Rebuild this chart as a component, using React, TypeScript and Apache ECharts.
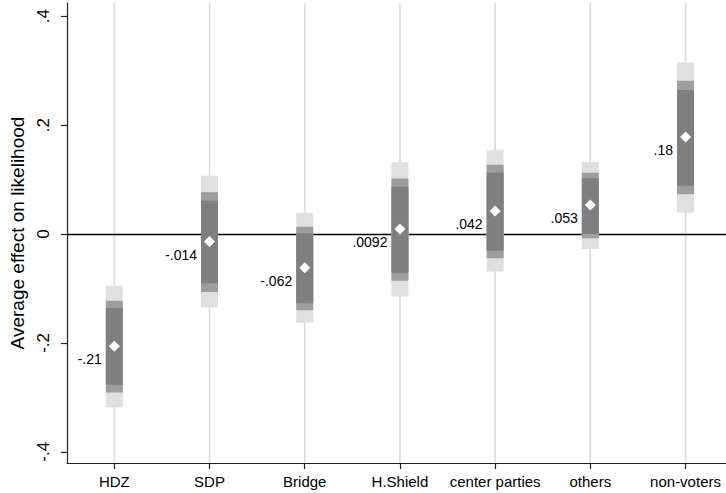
import React, { useEffect, useRef } from "react";
import * as echarts from "echarts";

const categories = ["HDZ", "SDP", "Bridge", "H.Shield", "center parties", "others", "non-voters"];
const estimates = [-0.206, -0.014, -0.062, 0.0092, 0.042, 0.053, 0.178];
const estimateLabels = ["-.21", "-.014", "-.062", ".0092", ".042", ".053", ".18"];
const ci99Low = [-0.318, -0.135, -0.163, -0.115, -0.069, -0.0275, 0.039];
const ci99High = [-0.095, 0.107, 0.039, 0.132, 0.154, 0.132, 0.315];
const ci95Low = [-0.291, -0.1065, -0.14, -0.086, -0.0446, -0.008, 0.073];
const ci95High = [-0.1225, 0.0766, 0.0134, 0.102, 0.127, 0.1126, 0.2815];
const ci90Low = [-0.277, -0.0905, -0.127, -0.0711, -0.0307, 0.0, 0.0887];
const ci90High = [-0.136, 0.0612, 0.0013, 0.0869, 0.113, 0.1023, 0.2645];
const yTicks = [-0.4, -0.2, 0, 0.2, 0.4];

const Y_MIN = -0.4206;
const Y_MAX = 0.4242;
const X_MIN = -0.497;
const X_MAX = 6.425;
const FONT = "'Liberation Sans', Arial, Helvetica, sans-serif";

export default function App() {
  const ref = useRef<HTMLDivElement>(null);
  useEffect(() => {
    if (!ref.current) return;
    const chart = echarts.init(ref.current, null, { renderer: "svg" });
    const idx = categories.map((_, i) => i);
    const fmtY = (v: number) => (v === 0 ? "0" : String(v).replace("0.", "."));
    chart.setOption({
      animation: false,
      backgroundColor: "#ffffff",
      grid: { left: 67, right: 0, top: 3, bottom: 30, containLabel: false },
      xAxis: {
        type: "value",
        min: X_MIN,
        max: X_MAX,
        axisLine: { show: true, onZero: false, lineStyle: { color: "#222", width: 1.2 } },
        axisTick: { show: true, length: 6, customValues: idx, lineStyle: { color: "#222", width: 1.2 } },
        axisLabel: {
          customValues: idx,
          formatter: (v: number) => categories[Math.round(v)] ?? "",
          margin: 11,
          fontSize: 15,
          color: "#000",
          fontFamily: FONT,
        },
        splitLine: { show: false },
      },
      yAxis: {
        type: "value",
        min: Y_MIN,
        max: Y_MAX,
        name: "Average effect on likelihood",
        nameLocation: "middle",
        nameRotate: 90,
        nameGap: 40,
        nameTextStyle: { fontSize: 19, color: "#000", fontFamily: FONT },
        axisLine: { show: true, onZero: false, lineStyle: { color: "#222", width: 1.2 } },
        axisTick: { show: true, length: 6, customValues: yTicks, lineStyle: { color: "#222", width: 1.2 } },
        axisLabel: {
          customValues: yTicks,
          formatter: fmtY,
          rotate: 90,
          margin: 15,
          fontSize: 17,
          color: "#000",
          fontFamily: FONT,
        },
        splitLine: { show: false },
      },
      series: [
        {
          type: "custom",
          z: 1,
          silent: true,
          data: idx.map((i) => [i]),
          renderItem: (params: any, api: any) => {
            const i = api.value(0);
            const top = api.coord([i, Y_MAX]);
            const bot = api.coord([i, Y_MIN]);
            return {
              type: "line",
              shape: { x1: top[0], y1: top[1], x2: bot[0], y2: bot[1] },
              style: { stroke: "#dcdcdc", lineWidth: 1.6 },
            };
          },
          markLine: {
            silent: true,
            z: 2,
            symbol: "none",
            label: { show: false },
            lineStyle: { color: "#000", width: 1.3, type: "solid" },
            data: [{ yAxis: 0 }],
          },
        },
        {
          type: "custom",
          z: 3,
          silent: true,
          data: idx.map((i) => [i, ci99Low[i], ci99High[i], ci95Low[i], ci95High[i], ci90Low[i], ci90High[i]]),
          renderItem: (params: any, api: any) => {
            const i = api.value(0);
            const half = 8.5;
            const rect = (lo: number, hi: number, color: string) => {
              const p1 = api.coord([i, hi]);
              const p2 = api.coord([i, lo]);
              return {
                type: "rect",
                shape: { x: p1[0] - half, y: p1[1], width: half * 2, height: p2[1] - p1[1] },
                style: { fill: color },
              };
            };
            return {
              type: "group",
              children: [
                rect(api.value(1), api.value(2), "#e0e0e0"),
                rect(api.value(3), api.value(4), "#9e9e9e"),
                rect(api.value(5), api.value(6), "#7f7f7f"),
              ],
            };
          },
        },
        {
          type: "scatter",
          z: 4,
          silent: true,
          symbol: "diamond",
          symbolSize: [11, 11],
          itemStyle: { color: "#ffffff", opacity: 1 },
          data: idx.map((i) => [i, estimates[i]]),
          label: {
            show: true,
            position: "left",
            distance: 7,
            offset: [0, 13],
            formatter: (p: any) => estimateLabels[p.dataIndex],
            fontSize: 14,
            color: "#000",
            opacity: 1,
            fontFamily: FONT,
          },
        },
      ],
    });
    return () => chart.dispose();
  }, []);
  return <div ref={ref} style={{ position: "fixed", left: 0, top: 0, width: 726, height: 493 }} />;
}
